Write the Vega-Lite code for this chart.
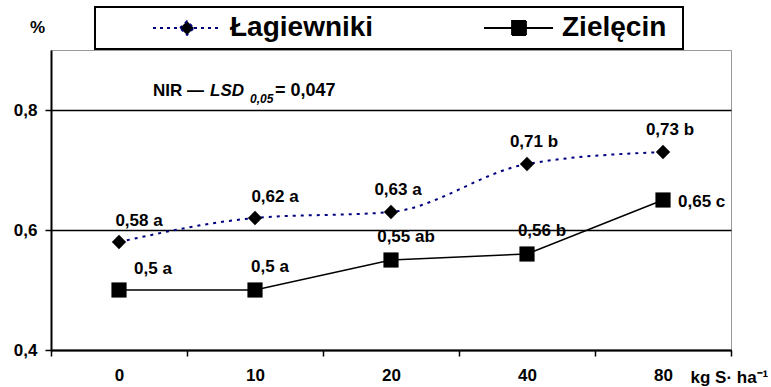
{
  "$schema": "https://vega.github.io/schema/vega-lite/v6.json",
  "width": 680,
  "height": 300,
  "autosize": {"type": "none"},
  "padding": {"left": 51, "top": 50, "right": 40, "bottom": 37},
  "background": "white",
  "config": {
    "font": "Liberation Sans",
    "view": {"stroke": "#999999", "strokeWidth": 1},
    "axis": {"labelFont": "Liberation Sans", "labelFontWeight": "bold", "labelFontSize": 17, "labelColor": "black", "titleFont": "Liberation Sans", "titleFontWeight": "bold", "titleFontSize": 17, "titleColor": "black", "domainColor": "black", "domainWidth": 2, "tickColor": "black", "tickWidth": 1.5, "tickSize": 6},
    "legend": {
      "orient": "none", "legendX": 44, "legendY": -43, "direction": "horizontal", "columns": 2, "columnPadding": 60,
      "strokeColor": "black", "strokeWidth": 2, "fillColor": "white", "padding": 7,
      "labelFont": "Liberation Sans", "labelFontWeight": "bold", "labelFontSize": 28, "labelColor": "black",
      "titleOrient": "right", "titleFontSize": 28, "titleColor": "white", "titlePadding": 10,
      "symbolSize": 196, "labelOffset": 29, "symbolOffset": 71, "symbolStrokeWidth": 1.8, "symbolOpacity": 1
    }
  },
  "data": {
    "values": [
      {"dose": 0, "series": "Łagiewniki", "value": 0.58, "label": "0,58 a"},
      {"dose": 10, "series": "Łagiewniki", "value": 0.62, "label": "0,62 a"},
      {"dose": 20, "series": "Łagiewniki", "value": 0.63, "label": "0,63 a"},
      {"dose": 40, "series": "Łagiewniki", "value": 0.71, "label": "0,71 b"},
      {"dose": 80, "series": "Łagiewniki", "value": 0.73, "label": "0,73 b"},
      {"dose": 0, "series": "Zielęcin", "value": 0.5, "label": "0,5 a"},
      {"dose": 10, "series": "Zielęcin", "value": 0.5, "label": "0,5 a"},
      {"dose": 20, "series": "Zielęcin", "value": 0.55, "label": "0,55 ab"},
      {"dose": 40, "series": "Zielęcin", "value": 0.56, "label": "0,56 b"},
      {"dose": 80, "series": "Zielęcin", "value": 0.65, "label": "0,65 c"}
    ]
  },
  "encoding": {
    "x": {
      "field": "dose", "type": "ordinal",
      "scale": {"domain": [0, 10, 20, 40, 80], "paddingInner": 0, "paddingOuter": 0},
      "axis": {"title": "kg S· ha⁻¹", "titleX": 639, "titleY": 27, "titleAlign": "left", "titleBaseline": "middle", "labelAngle": 0, "tickBand": "extent", "labelPadding": 11, "grid": false}
    },
    "y": {
      "field": "value", "type": "quantitative",
      "scale": {"domain": [0.4, 0.9], "nice": false, "zero": false},
      "axis": {"title": "%", "titleAngle": 0, "titleX": -14, "titleY": -23, "titleAlign": "center", "titleBaseline": "middle", "values": [0.4, 0.6, 0.8], "labelExpr": "replace(format(datum.value, '.1f'), '.', ',')", "grid": true, "gridColor": "black", "gridWidth": 1.5, "gridOpacity": 1, "labelPadding": 8}
    }
  },
  "layer": [
    {
      "transform": [{"filter": "datum.series === 'Łagiewniki'"}],
      "mark": {"type": "line", "color": "#000080", "strokeWidth": 2, "strokeDash": [3, 5], "interpolate": "monotone"}
    },
    {
      "transform": [{"filter": "datum.series === 'Zielęcin'"}],
      "mark": {"type": "line", "color": "black", "strokeWidth": 1.5}
    },
    {
      "transform": [{"filter": "datum.series === 'Łagiewniki'"}],
      "mark": {"type": "point", "shape": "diamond", "filled": true, "color": "black", "opacity": 1, "size": 205}
    },
    {
      "transform": [{"filter": "datum.series === 'Zielęcin'"}],
      "mark": {"type": "point", "shape": "square", "filled": true, "color": "black", "opacity": 1, "size": 230}
    },
    {
      "transform": [{"filter": "false"}],
      "mark": {"type": "point", "filled": true},
      "encoding": {
        "shape": {"field": "series", "type": "nominal", "title": "\u00a0\u00a0\u00a0",
          "scale": {"domain": ["Łagiewniki", "Zielęcin"], "range": ["M-4.86,0L-1,0M1,0L4.43,0M-1,0L0,-1L1,0L0,1Z", "M-5,0L-1,0M1,0L4.86,0M-1,-1L1,-1L1,1L-1,1Z"]}},
        "fill": {"field": "series", "type": "nominal", "title": "\u00a0\u00a0\u00a0",
          "scale": {"domain": ["Łagiewniki", "Zielęcin"], "range": ["black", "black"]}},
        "stroke": {"field": "series", "type": "nominal", "title": "\u00a0\u00a0\u00a0",
          "scale": {"domain": ["Łagiewniki", "Zielęcin"], "range": ["#000080", "black"]}},
        "strokeDash": {"field": "series", "type": "nominal", "title": "\u00a0\u00a0\u00a0",
          "scale": {"domain": ["Łagiewniki", "Zielęcin"], "range": [[3, 4], [1, 0]]}}
      }
    },
    {
      "transform": [{"filter": "datum.series === 'Łagiewniki' && datum.dose <= 10"}],
      "mark": {"type": "text", "font": "Liberation Sans", "fontWeight": "bold", "fontSize": 17, "color": "black", "align": "center", "baseline": "middle", "dx": 20, "dy": -21},
      "encoding": {"text": {"field": "label"}}
    },
    {
      "transform": [{"filter": "datum.series === 'Łagiewniki' && datum.dose > 10"}],
      "mark": {"type": "text", "font": "Liberation Sans", "fontWeight": "bold", "fontSize": 17, "color": "black", "align": "center", "baseline": "middle", "dx": 7, "dy": -22},
      "encoding": {"text": {"field": "label"}}
    },
    {
      "transform": [{"filter": "datum.series === 'Zielęcin' && datum.dose === 0"}],
      "mark": {"type": "text", "font": "Liberation Sans", "fontWeight": "bold", "fontSize": 17, "color": "black", "align": "center", "baseline": "middle", "dx": 34, "dy": -21},
      "encoding": {"text": {"field": "label"}}
    },
    {
      "transform": [{"filter": "datum.series === 'Zielęcin' && datum.dose > 0 && datum.dose < 80"}],
      "mark": {"type": "text", "font": "Liberation Sans", "fontWeight": "bold", "fontSize": 17, "color": "black", "align": "center", "baseline": "middle", "dx": 15, "dy": -23},
      "encoding": {"text": {"field": "label"}}
    },
    {
      "transform": [{"filter": "datum.series === 'Zielęcin' && datum.dose === 80"}],
      "mark": {"type": "text", "font": "Liberation Sans", "fontWeight": "bold", "fontSize": 17, "color": "black", "align": "left", "baseline": "middle", "dx": 15, "dy": 2},
      "encoding": {"text": {"field": "label"}}
    },
    {
      "transform": [{"filter": "datum.series === 'Zielęcin' && datum.dose === 0"}],
      "mark": {"type": "text", "text": "NIR — ", "font": "Liberation Sans", "fontWeight": "bold", "fontSize": 17, "color": "black", "align": "left", "baseline": "alphabetic", "dx": 34},
      "encoding": {"y": {"datum": 0.8233}}
    },
    {
      "transform": [{"filter": "datum.series === 'Zielęcin' && datum.dose === 0"}],
      "mark": {"type": "text", "text": "LSD", "font": "Liberation Sans", "fontWeight": "bold", "fontStyle": "italic", "fontSize": 17, "color": "black", "align": "left", "baseline": "alphabetic", "dx": 91},
      "encoding": {"y": {"datum": 0.8233}}
    },
    {
      "transform": [{"filter": "datum.series === 'Zielęcin' && datum.dose === 0"}],
      "mark": {"type": "text", "text": "0,05", "font": "Liberation Sans", "fontWeight": "bold", "fontStyle": "italic", "fontSize": 12, "color": "black", "align": "left", "baseline": "alphabetic", "dx": 131, "dy": 7},
      "encoding": {"y": {"datum": 0.8233}}
    },
    {
      "transform": [{"filter": "datum.series === 'Zielęcin' && datum.dose === 0"}],
      "mark": {"type": "text", "text": "= 0,047", "font": "Liberation Sans", "fontWeight": "bold", "fontSize": 18, "color": "black", "align": "left", "baseline": "alphabetic", "dx": 156},
      "encoding": {"y": {"datum": 0.8233}}
    }
  ]
}
